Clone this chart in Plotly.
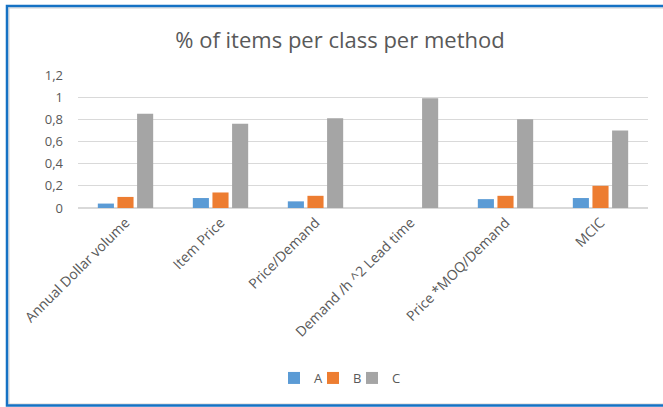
import plotly.graph_objects as go

# Classification methods (x categories)
methods = [
    "Annual Dollar volume",
    "Item Price",
    "Price/Demand",
    "Demand /h ^2 Lead time",
    "Price *MOQ/Demand",
    "MCIC",
]

# Share of items falling in each class, per method
class_a = [0.04, 0.09, 0.06, 0.0, 0.08, 0.09]
class_b = [0.10, 0.14, 0.11, 0.0, 0.11, 0.20]
class_c = [0.85, 0.76, 0.81, 0.99, 0.80, 0.70]

series_names = ["A", "B", "C"]
series_colors = ["#5B9BD5", "#ED7D31", "#A5A5A5"]

W, H = 663, 407
ML, MR, MT, MB = 78, 15, 75, 199
PW, PH = W - ML - MR, H - MT - MB

def px_x(px):
    return (px - ML) / PW

def px_y(py):
    return (H - MB - py) / PH

font_family = "'Open Sans', sans-serif"
text_color = "#595959"

# one compact legend per series so the entries sit close together
legend_ids = ["legend", "legend2", "legend3"]
legend_left_px = [274, 313, 352]

fig = go.Figure()
for name, vals, col, lg in zip(series_names, [class_a, class_b, class_c],
                               series_colors, legend_ids):
    fig.add_trace(go.Bar(name=name, x=methods, y=vals, marker_color=col,
                         marker_line_width=0, legend=lg))

legend_style = dict(orientation="h", xanchor="left", y=px_y(378), yanchor="middle",
                    font=dict(size=13, color=text_color), itemwidth=30,
                    bgcolor="rgba(0,0,0,0)")

fig.update_layout(
    width=W, height=H,
    margin=dict(l=ML, r=MR, t=MT, b=MB),
    paper_bgcolor="white", plot_bgcolor="white",
    separators=", ",
    barmode="group", bargap=0.38, bargroupgap=0.18,
    font=dict(family=font_family, color=text_color, size=13),
    title=dict(text="% of items per class per method", x=340 / W, xanchor="center",
               y=1 - 40 / H, yanchor="middle",
               font=dict(size=22, color=text_color, family=font_family)),
    showlegend=True,
    legend=dict(x=px_x(legend_left_px[0]), **legend_style),
    legend2=dict(x=px_x(legend_left_px[1]), **legend_style),
    legend3=dict(x=px_x(legend_left_px[2]), **legend_style),
    xaxis=dict(tickangle=-45, showgrid=False, showline=True, linecolor="#D9D9D9",
               linewidth=1, ticks="", tickfont=dict(size=14, color=text_color)),
    yaxis=dict(range=[0, 1.2], dtick=0.2, showgrid=True, gridcolor="#D9D9D9",
               gridwidth=1, zeroline=True, zerolinecolor="#D9D9D9", showline=False,
               ticks="", ticklabelstandoff=14,
               tickfont=dict(size=13, color=text_color)),
)

# Frame around the chart: thin grey inner edge and a blue outer border
fig.add_shape(type="rect", xref="paper", yref="paper",
              x0=px_x(9), x1=px_x(680), y0=px_y(404), y1=px_y(8),
              line=dict(color="#D0D0D0", width=1), fillcolor="rgba(0,0,0,0)",
              layer="below")
fig.add_shape(type="rect", xref="paper", yref="paper",
              x0=px_x(7), x1=px_x(690), y0=px_y(405.5), y1=px_y(6),
              line=dict(color="#1672C4", width=2.5), fillcolor="rgba(0,0,0,0)")

fig.write_html("out.html")
